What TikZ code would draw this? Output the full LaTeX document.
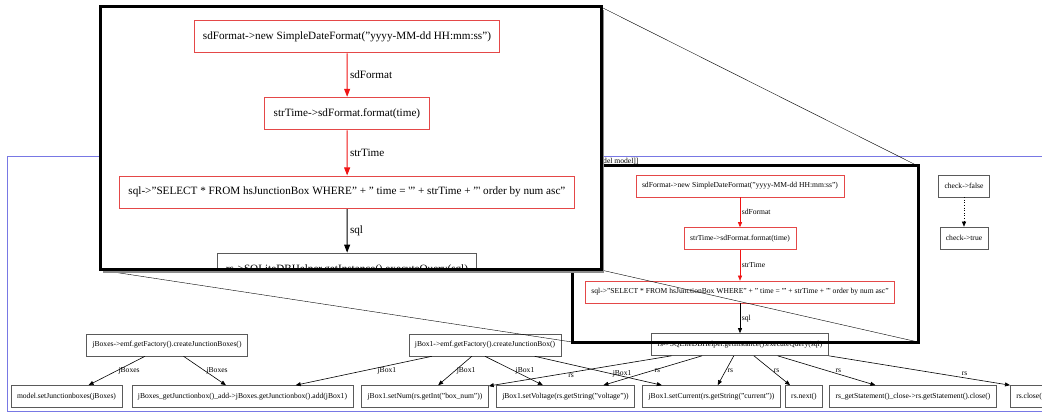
\documentclass[tikz,border=0pt]{standalone}
\usepackage{fontspec}
\setmainfont{Liberation Serif}
\usetikzlibrary{arrows.meta}

\definecolor{boxgray}{RGB}{90,90,90}
\definecolor{boxred}{RGB}{228,72,72}
\definecolor{edgered}{RGB}{240,20,20}
\definecolor{clusterblue}{RGB}{120,120,228}
\definecolor{lensshadow}{RGB}{140,140,140}

\newcommand{\gfont}{\fontsize{7.6}{9}\selectfont}
\newcommand{\sq}{\textquotesingle}

\tikzset{
  glw/.style={line width=0.6pt},
  gbox/.style={draw=boxgray, glw, font=\gfont, inner xsep=6pt, inner ysep=0pt, minimum height=22pt},
  redbox/.style={gbox, draw=boxred},
  gedge/.style={glw, ->, draw=black},
  rededge/.style={gedge, draw=edgered},
  glabel/.style={font=\gfont, inner sep=1.5pt},
  lensframe/.style={line width=3pt, draw=black},
}

% the part of the graph that the lens shows (drawn twice)
\newcommand{\lensgraph}{%
  \node[redbox] (fmt) at (740,186) {sdFormat->new SimpleDateFormat("yyyy-MM-dd HH:mm:ss")};
  \node[redbox] (strt) at (740,238.5) {strTime->sdFormat.format(time)};
  \node[redbox] (sqlq) at (740,292) {sql->"SELECT * FROM hsJunctionBox WHERE" + " time = \sq" + strTime + "\sq{} order by num asc"};
  \node[gbox] (rsq) at (740,344.5) {rs->SQLiteDBHelper.getInstance().executeQuery(sql)};
  \draw[rededge] (fmt) -- node[glabel, right] (lfmt) {sdFormat} (strt);
  \draw[rededge] (strt) -- node[glabel, right] (lstrt) {strTime} (sqlq);
  \draw[gedge] (sqlq) -- node[glabel, right] (lsql) {sql} (rsq);
}

% the rest of the model graph
\newcommand{\restgraph}{%
  %Shape: Rectangle (cluster)
  \draw[clusterblue, glw] (7,156) rectangle (1060,411);
  % Text Node
  \node[font=\gfont, anchor=west, inner sep=0pt] (clab) at (603,161.5) {del model]]};
  \node[gbox] (chkf) at (964,186) {check->false};
  \node[gbox] (chkt) at (964,238) {check->true};
  \node[gbox] (jbs) at (167,345) {jBoxes->emf.getFactory().createJunctionBoxes()};
  \node[gbox] (jb1) at (485,345) {jBox1->emf.getFactory().createJunctionBox()};
  \node[gbox] (setjb) at (66.5,396.5) {model.setJunctionboxes(jBoxes)};
  \node[gbox] (addjb) at (242.5,396.5) {jBoxes\_getJunctionbox()\_add->jBoxes.getJunctionbox().add(jBox1)};
  \node[gbox] (setnum) at (425,396.5) {jBox1.setNum(rs.getInt("box\_num"))};
  \node[gbox] (setvol) at (565.5,396.5) {jBox1.setVoltage(rs.getString("voltage"))};
  \node[gbox] (setcur) at (711.5,396.5) {jBox1.setCurrent(rs.getString("current"))};
  \node[gbox] (rsnext) at (804,396.5) {rs.next()};
  \node[gbox] (rsst) at (913,396.5) {rs\_getStatement()\_close->rs.getStatement().close()};
  \node[gbox, anchor=west] (rscl) at (1010,396.5) {rs.close()};
  % edges
  \draw[gedge, dotted] (chkf) -- (chkt);
  \draw[gedge] (jbs) -- node[glabel, right] (ljbs1) {jBoxes} (setjb);
  \draw[gedge] (jbs) -- node[glabel, right] (ljbs2) {jBoxes} (addjb);
  \draw[gedge] (jb1) -- node[glabel, pos=.33, below] (ljb1a) {jBox1} (addjb);
  \draw[gedge] (jb1) -- node[glabel, right] (ljb1b) {jBox1} (setnum);
  \draw[gedge] (jb1.south) -- node[glabel, right] (ljb1c) {jBox1} (setvol);
  \draw[gedge] (jb1) -- node[glabel, pos=.6, right] (ljb1d) {jBox1} (setcur);
  \draw[gedge] (rsq) -- node[glabel, pos=.55, below] (lrs1) {rs} (setnum);
  \draw[gedge] (rsq) -- node[glabel, right] (lrs2) {rs} (setvol);
  \draw[gedge] (rsq) -- node[glabel, right] (lrs3) {rs} (setcur);
  \draw[gedge] (rsq) -- node[glabel, right] (lrs4) {rs} (rsnext);
  \draw[gedge] (rsq) -- node[glabel, pos=.62, above] (lrs5) {rs} (rsst);
  \draw[gedge] (rsq.south east) -- node[glabel, pos=.75, above] (lrs6) {rs} (rscl.north west);
}

\begin{document}
\begin{tikzpicture}[x=1pt,y=-1pt,>={Triangle[length=5pt,width=4pt]}]
\clip (0,0) rectangle (1042,414);
\fill[white] (0,0) rectangle (1042,414);

\lensgraph
\restgraph

%Shape: Rectangle (region under the lens)
\coordinate (srcNW) at (572,166);
\coordinate (srcNE) at (918,166);
\coordinate (srcSW) at (572,342);
\coordinate (srcSE) at (918,342);
\draw[lensframe] (srcNW) rectangle (srcSE);

% lens corners
\coordinate (lensNW) at (100,7);
\coordinate (lensNE) at (601,7);
\coordinate (lensSW) at (100,270);
\coordinate (lensSE) at (601,270);

%Straight Lines
\draw (lensNE) -- (srcNE);
\draw (lensSW) -- (srcSW);
\draw (lensSE) -- (srcSE);

%Shape: Rectangle (lens)
\fill[lensshadow] ([shift={(3,3)}]lensNW) rectangle ([shift={(3,3)}]lensSE);
\fill[white] (lensNW) rectangle (lensSE);
\begin{scope}
  \clip (lensNW) rectangle (lensSE);
  \begin{scope}[shift={(100,7)}, scale=1.47, shift={(-572,-166)}, transform shape,
      glw/.style={line width=0.9pt}, >={Triangle[length=8pt,width=6pt]}]
    \lensgraph
  \end{scope}
\end{scope}
\draw[lensframe] (lensNW) rectangle (lensSE);
\end{tikzpicture}
\end{document}
